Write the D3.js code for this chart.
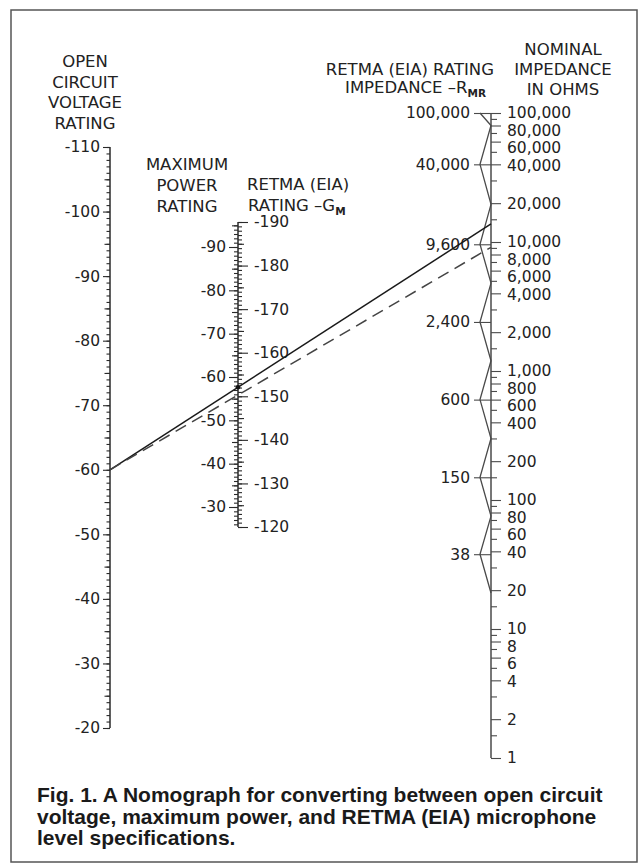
<!DOCTYPE html>
<html><head><meta charset="utf-8">
<script src="https://cdn.jsdelivr.net/npm/d3@7"></script>
<style>
body{margin:0;background:#fff;}
svg{display:block;}
text{font-family:"DejaVu Sans",sans-serif;fill:#222;font-size:15.5px;}
.ttl{font-size:16.5px;}
.cap{font-family:"Liberation Sans",Arial,sans-serif;font-weight:bold;font-size:21px;fill:#1a1a1a;}
</style></head><body>
<svg id="c" width="640" height="864"></svg>
<script>
// ---------- data ----------
const voltageLabels = [-110,-100,-90,-80,-70,-60,-50,-40,-30,-20];
const powerLabels = [-90,-80,-70,-60,-50,-40,-30];
const gmLabels = [-190,-180,-170,-160,-150,-140,-130,-120];
const impedanceLabels = [100000,80000,60000,40000,20000,10000,8000,6000,4000,2000,1000,800,600,400,200,100,80,60,40,20,10,8,6,4,2,1];
const impedanceMinor = [1.5,3,5,7,9,15,30,50,70,90,150,300,500,700,900,1500,3000,5000,7000,9000,15000,30000,50000,70000,90000];
const rmrLabels = [100000,40000,9600,2400,600,150,38];
const rmrZigzag = [100000,80000,40000,19600,9600,4800,2400,1200,600,300,150,75,38,19];
const exampleLines = [
  {voltage:-60, impedance:13800, dashed:false},
  {voltage:-60, impedance:9100, dashed:true}
];
const titleVoltage = ["OPEN","CIRCUIT","VOLTAGE","RATING"];
const titlePower = ["MAXIMUM","POWER","RATING"];
const titleNominal = ["NOMINAL","IMPEDANCE","IN OHMS"];
const caption = ["Fig. 1. A Nomograph for converting between open circuit",
                 "voltage, maximum power, and RETMA (EIA) microphone",
                 "level specifications."];

// ---------- layout ----------
const svg = d3.select("#c");
const ink = "#2a2a2a", gray = "#4a4a4a";
svg.append("rect").attr("x",11).attr("y",10).attr("width",626).attr("height",852)
  .attr("fill","none").attr("stroke","#555").attr("stroke-width",1.5);

const xV = 110, xM = 238, xZ = 491, xR = 480;
const yV = d3.scaleLinear().domain([-110,-20]).range([147,728]);
const yP = d3.scaleLinear().domain([-90,-30]).range([247,507]);
const yG = d3.scaleLinear().domain([-190,-120]).range([222,527]);
const yZ = d3.scaleLog().domain([1,100000]).range([758,113]);
const fmtNeg = d => "-" + Math.abs(d);

function ticks(parent, gen, scale, values, size, fmt, pad, color){
  const g = parent.append("g").call(gen(scale).tickValues(values).tickSize(size)
     .tickSizeOuter(0).tickPadding(pad||0).tickFormat(fmt || (() => "")));
  g.select(".domain").remove();
  g.attr("font-size",null).attr("font-family",null);
  g.selectAll(".tick line").attr("stroke",color||ink).attr("stroke-width",1.1);
  return g;
}
function axisLine(g, y1, y2, color){
  g.append("line").attr("x1",0).attr("x2",0).attr("y1",y1).attr("y2",y2)
   .attr("stroke",color||ink).attr("stroke-width",1.5);
}

// open circuit voltage axis
const gV = svg.append("g").attr("transform",`translate(${xV},0)`);
axisLine(gV, yV(-110), yV(-20));
ticks(gV, d3.axisLeft, yV, d3.range(-110,-19,1), 3.5);
ticks(gV, d3.axisLeft, yV, d3.range(-105,-20,10), 5.5);
ticks(gV, d3.axisLeft, yV, voltageLabels, 7, fmtNeg, 3);

// maximum power / Gm axis
const gM = svg.append("g").attr("transform",`translate(${xM},0)`);
axisLine(gM, yG(-190), yG(-120));
ticks(gM, d3.axisLeft, yP, d3.range(-95,-25,1), 4);
ticks(gM, d3.axisLeft, yP, d3.range(-95,-30,10), 6);
ticks(gM, d3.axisLeft, yP, powerLabels, 9, fmtNeg, 3);
ticks(gM, d3.axisRight, yG, d3.range(-190,-119,1), 4);
ticks(gM, d3.axisRight, yG, d3.range(-185,-120,10), 6);
ticks(gM, d3.axisRight, yG, gmLabels, 10, fmtNeg, 6);

// nominal impedance axis
const gZ = svg.append("g").attr("transform",`translate(${xZ},0)`);
axisLine(gZ, yZ(100000), yZ(1), gray);
ticks(gZ, d3.axisRight, yZ, impedanceMinor, 6, null, 0, gray);
const zl = ticks(gZ, d3.axisRight, yZ, impedanceLabels, 10, d3.format(","), 6, gray);
{
  let prev = -Infinity; const pos = new Map();
  impedanceLabels.slice().sort((a,b)=>b-a).forEach(v => {
    const y = Math.max(yZ(v), prev + 17.5); pos.set(v,y); prev = y;
  });
  zl.selectAll(".tick text").attr("y", d => pos.get(d) - yZ(d));
}

// R_MR zigzag scale
svg.append("path")
  .attr("d", d3.line()(rmrZigzag.map((v,i) => [i%2===0 ? xR : xZ, yZ(v)])))
  .attr("fill","none").attr("stroke",gray).attr("stroke-width",1.3);
const gR = svg.append("g").attr("transform",`translate(${xR},0)`);
ticks(gR, d3.axisLeft, yZ, rmrLabels, 6, d3.format(","), 4, gray);
ticks(gR, d3.axisRight, yZ, rmrLabels, xZ - xR, null, 0, gray);

// example lines
exampleLines.forEach(l => {
  const x1 = xV, y1 = yV(l.voltage), x2 = xZ, y2 = yZ(l.impedance);
  svg.append("line").attr("x1",x1).attr("y1",y1).attr("x2",x2).attr("y2",y2)
    .attr("stroke", l.dashed ? "#444" : "#1a1a1a").attr("stroke-width",1.5)
    .attr("stroke-dasharray", l.dashed ? "12,7" : null);
  if(!l.dashed){
    const t = (xM - x1)/(x2 - x1);
    svg.append("circle").attr("cx",xM).attr("cy",y1 + t*(y2-y1)).attr("r",2.3).attr("fill","#111");
  }
});

// titles
function block(lines, x, y0, dy, anchor){
  lines.forEach((s,i) => svg.append("text").attr("class","ttl").attr("x",x).attr("y",y0+i*dy)
     .attr("text-anchor",anchor||"middle").text(s));
}
block(titleVoltage, 85, 67, 20.7);
block(titlePower, 187, 170, 21);
svg.append("text").attr("class","ttl").attr("x",247).attr("y",190).text("RETMA (EIA)");
{
  const t = svg.append("text").attr("class","ttl").attr("x",248).attr("y",211).text("RATING –G");
  t.append("tspan").attr("dy",4).style("font-size","10.5px").style("font-weight","bold").text("M");
}
svg.append("text").attr("class","ttl").attr("x",494).attr("y",75).attr("text-anchor","end").text("RETMA (EIA) RATING");
{
  const t = svg.append("text").attr("class","ttl").attr("x",486).attr("y",93).attr("text-anchor","end").text("IMPEDANCE –R");
  t.append("tspan").attr("dy",4).style("font-size","10.5px").style("font-weight","bold").text("MR");
}
block(titleNominal, 563, 55, 20);

// caption
caption.forEach((s,i) => svg.append("text").attr("class","cap").attr("x",37).attr("y",802+i*21.5).text(s));
</script>
</body></html>
